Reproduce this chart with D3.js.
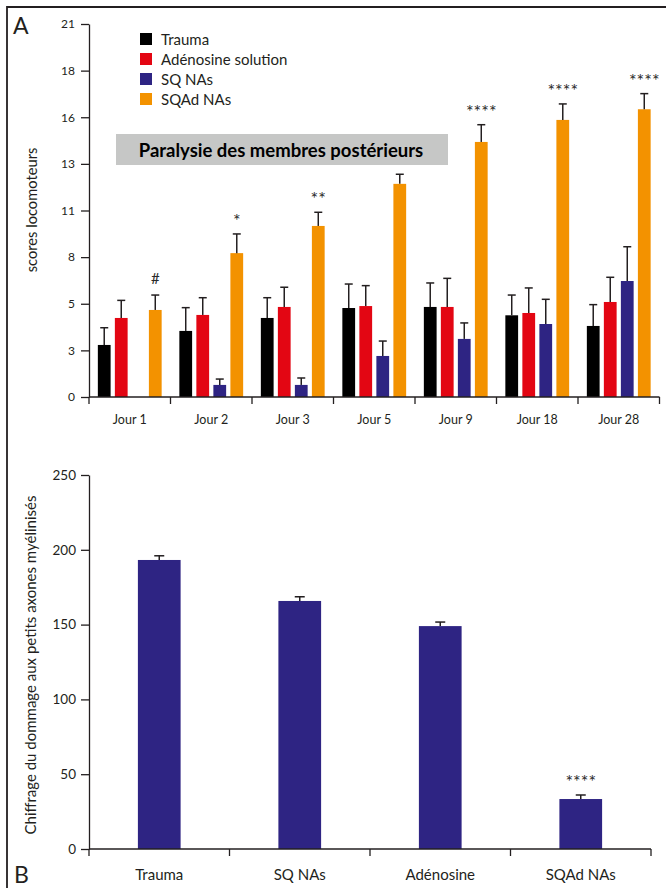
<!DOCTYPE html>
<html><head><meta charset="utf-8">
<script src="https://cdn.jsdelivr.net/npm/d3@7"></script>
<style>body{margin:0;background:#fff}svg{display:block}text{font-family:Lato,"Noto Sans",sans-serif;fill:#231f20}</style>
</head><body>
<script>
// ---------- Data: panel A ----------
const days = ["Jour 1","Jour 2","Jour 3","Jour 5","Jour 9","Jour 18","Jour 28"];
const seriesNames = ["Trauma","Adénosine solution","SQ NAs","SQAd NAs"];
const seriesColors = ["#000000","#e30613","#2e2483","#f39200"];
const trauma      = [2.93, 3.72, 4.45, 5.01, 5.07, 4.60, 4.00];
const traumaErr   = [0.97, 1.31, 1.14, 1.35, 1.35, 1.14, 1.20];
const adenosine   = [4.45, 4.62, 5.07, 5.12, 5.07, 4.73, 5.35];
const adenosineErr= [0.99, 0.97, 1.11, 1.15, 1.61, 1.41, 1.39];
const sqNAs       = [null, 0.68, 0.68, 2.31, 3.27, 4.11, 6.53];
const sqNAsErr    = [null, 0.33, 0.39, 0.84, 0.90, 1.39, 1.93];
const sqadNAs     = [4.90, 8.10, 9.63, 12.00, 14.36, 15.60, 16.20];
const sqadNAsErr  = [0.84, 1.08, 0.77, 0.54, 0.97, 0.90, 0.88];
const sigA        = ["#", "*", "**", "", "****", "****", "****"];
const yTickLabelsA = ["0","3","5","8","11","13","16","18","21"];
const yMaxA = 21;
// ---------- Data: panel B ----------
const groupsB = ["Trauma","SQ NAs","Adénosine","SQAd NAs"];
const valuesB = [193.2, 165.8, 149.0, 33.4];
const errB    = [2.8, 2.8, 2.7, 2.7];
const sigB    = ["", "", "", "****"];
const yTicksB = [0, 50, 100, 150, 200, 250];

const W = 666, H = 888;
const svg = d3.select("body").append("svg").attr("width", W).attr("height", H);
const ink = "#231f20";
const sigFont = "'DejaVu Sans', sans-serif";

// frame
svg.append("path").attr("d", "M7,888V7H666").attr("fill","none").attr("stroke", ink).attr("stroke-width", 1.8);
svg.append("text").attr("x", 13).attr("y", 33.5).attr("font-size", 23).text("A");
svg.append("text").attr("x", 14).attr("y", 883).attr("font-size", 23).text("B");

// ================= Panel A =================
const series = [
  {v: trauma, e: traumaErr},
  {v: adenosine, e: adenosineErr},
  {v: sqNAs, e: sqNAsErr},
  {v: sqadNAs, e: sqadNAsErr}
];
const x0 = d3.scaleBand().domain(days).range([89, 659.5]).paddingInner(0).paddingOuter(0);
const x1 = d3.scaleBand().domain(d3.range(4)).range([0, x0.bandwidth()]).paddingInner(0.25).paddingOuter(0.52);
const yA = d3.scaleLinear().domain([0, yMaxA]).range([397, 24]);
const tickValsA = yTickLabelsA.map((_, i) => i * yMaxA / (yTickLabelsA.length - 1));

const gA = svg.append("g");
const axA = gA.append("g").attr("transform","translate(89,0)")
  .call(d3.axisLeft(yA).tickValues(tickValsA).tickFormat((d,i)=>yTickLabelsA[i]).tickSize(8).tickSizeOuter(0).tickPadding(6));
axA.selectAll("path,line").attr("stroke", ink).attr("stroke-width", 1.3);
axA.selectAll("text").attr("font-size", 12).attr("font-family","Lato").attr("fill", ink);
days.forEach((day, di) => {
  series.forEach((s, si) => {
    const v = s.v[di];
    if (v == null) return;
    const bx = x0(day) + x1(si);
    gA.append("rect").attr("x", bx).attr("y", yA(v)).attr("width", x1.bandwidth())
      .attr("height", yA(0) - yA(v)).attr("fill", seriesColors[si]);
    const cx = bx + x1.bandwidth()/2, top = yA(v + s.e[di]);
    gA.append("line").attr("x1", cx).attr("x2", cx).attr("y1", yA(v)).attr("y2", top).attr("stroke", ink).attr("stroke-width", 1.5);
    gA.append("line").attr("x1", cx-4).attr("x2", cx+4).attr("y1", top).attr("y2", top).attr("stroke", ink).attr("stroke-width", 1.5);
  });
  const s = sigA[di];
  if (s) {
    const bx = x0(day) + x1(3) + x1.bandwidth()/2;
    const top = yA(sqadNAs[di] + sqadNAsErr[di]);
    const isHash = s === "#";
    gA.append("text").attr("x", bx).attr("y", isHash ? top - 11 : top - 7)
      .attr("text-anchor","middle").attr("font-family", isHash ? "Lato" : sigFont)
      .attr("font-size", isHash ? 15 : 18).style("fill","#2a2a2a").text(s);
  }
});
gA.append("line").attr("x1", x0.range()[0]).attr("x2", x0.range()[1]).attr("y1", 397).attr("y2", 397).attr("stroke", ink).attr("stroke-width", 1.3);
days.concat([null]).forEach(d => {
  const xx = d ? x0(d) : x0(days[days.length-1]) + x0.bandwidth();
  gA.append("line").attr("x1", xx).attr("x2", xx).attr("y1", 397).attr("y2", 404).attr("stroke", ink).attr("stroke-width", 1.3);
});
days.forEach(d => gA.append("text").attr("x", x0(d) + x0.bandwidth()/2).attr("y", 424).attr("text-anchor","middle").attr("font-size", 12.5).text(d));
gA.append("text").attr("transform","translate(37,210) rotate(-90)").attr("text-anchor","middle").attr("font-size", 14.7).text("scores locomoteurs");
seriesNames.forEach((n, i) => {
  const yy = 33 + i * 20;
  gA.append("rect").attr("x", 140).attr("y", yy).attr("width", 12).attr("height", 12).attr("fill", seriesColors[i]);
  gA.append("text").attr("x", 161).attr("y", yy + 11.5).attr("font-size", 15).text(n);
});
gA.append("rect").attr("x", 116).attr("y", 134).attr("width", 332).attr("height", 31).attr("fill", "#c6c7c6");
gA.append("text").attr("x", 281).attr("y", 156.5).attr("text-anchor","middle").attr("font-size", 18.5).attr("font-weight","bold").style("fill","#000").text("Paralysie des membres postérieurs");

// ================= Panel B =================
const xB = d3.scaleBand().domain(groupsB).range([89, 651]).paddingInner(0).paddingOuter(0);
const yB = d3.scaleLinear().domain([0, 250]).range([849, 475]);
const gB = svg.append("g");
const axB = gB.append("g").attr("transform","translate(89,0)")
  .call(d3.axisLeft(yB).tickValues(yTicksB).tickFormat(d3.format("d")).tickSize(8).tickSizeOuter(0).tickPadding(5));
axB.selectAll("path,line").attr("stroke", ink).attr("stroke-width", 1.3);
axB.selectAll("text").attr("font-size", 13.5).attr("font-family","Lato").attr("fill", ink);
const barW = xB.bandwidth() * 0.304;
groupsB.forEach((g, i) => {
  const cx = xB(g) + xB.bandwidth()/2;
  gB.append("rect").attr("x", cx - barW/2).attr("y", yB(valuesB[i])).attr("width", barW)
    .attr("height", yB(0) - yB(valuesB[i])).attr("fill", "#2e2483");
  const top = yB(valuesB[i] + errB[i]);
  gB.append("line").attr("x1", cx).attr("x2", cx).attr("y1", yB(valuesB[i])).attr("y2", top).attr("stroke", ink).attr("stroke-width", 1.5);
  gB.append("line").attr("x1", cx-5).attr("x2", cx+5).attr("y1", top).attr("y2", top).attr("stroke", ink).attr("stroke-width", 1.5);
  if (sigB[i]) gB.append("text").attr("x", cx).attr("y", top - 7).attr("text-anchor","middle").attr("font-family", sigFont).attr("font-size", 18).style("fill","#2a2a2a").text(sigB[i]);
});
gB.append("line").attr("x1", 89).attr("x2", 651).attr("y1", 849).attr("y2", 849).attr("stroke", ink).attr("stroke-width", 1.3);
groupsB.concat([null]).forEach(d => {
  const xx = d ? xB(d) : xB(groupsB[groupsB.length-1]) + xB.bandwidth();
  gB.append("line").attr("x1", xx).attr("x2", xx).attr("y1", 849).attr("y2", 856).attr("stroke", ink).attr("stroke-width", 1.3);
});
groupsB.forEach(g => gB.append("text").attr("x", xB(g) + xB.bandwidth()/2).attr("y", 879.5).attr("text-anchor","middle").attr("font-size", 15).text(g));
gB.append("text").attr("transform","translate(36,665) rotate(-90)").attr("text-anchor","middle").attr("font-size", 15).text("Chiffrage du dommage aux petits axones myélinisés");
</script>
</body></html>
